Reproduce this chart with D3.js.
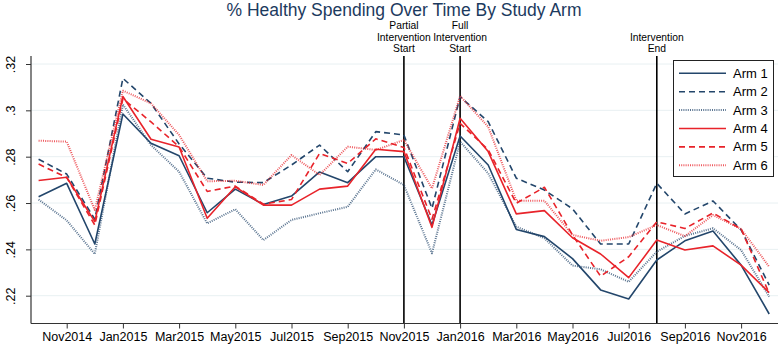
<!DOCTYPE html>
<html><head><meta charset="utf-8">
<script src="https://cdn.jsdelivr.net/npm/d3@7"></script>
<style>body{margin:0;background:#fff}svg{display:block;font-family:"Liberation Sans",Arial,sans-serif}</style>
</head><body><svg id="c" width="778" height="346"></svg>
<script>
const months = ["Oct2014","Nov2014","Dec2014","Jan2015","Feb2015","Mar2015","Apr2015","May2015","Jun2015","Jul2015","Aug2015","Sep2015","Oct2015","Nov2015","Dec2015","Jan2016","Feb2016","Mar2016","Apr2016","May2016","Jun2016","Jul2016","Aug2016","Sep2016","Oct2016","Nov2016","Dec2016"];
const xTickLabels = ["Nov2014","Jan2015","Mar2015","May2015","Jul2015","Sep2015","Nov2015","Jan2016","Mar2016","May2016","Jul2016","Sep2016","Nov2016"];
const yTicks = [0.22,0.24,0.26,0.28,0.30,0.32];
const yTickLabels = [".22",".24",".26",".28",".3",".32"];
const arm1 = [0.2627,0.2685,0.2423,0.2984,0.2858,0.2804,0.2558,0.2660,0.2594,0.2630,0.2734,0.2688,0.2800,0.2800,0.2505,0.2889,0.2764,0.2486,0.2455,0.2360,0.2225,0.2186,0.2354,0.2437,0.2479,0.2332,0.2121];
const arm2 = [0.2789,0.2725,0.2530,0.3138,0.3030,0.2855,0.2707,0.2690,0.2688,0.2764,0.2850,0.2735,0.2908,0.2894,0.2577,0.3059,0.2951,0.2707,0.2656,0.2575,0.2423,0.2423,0.2685,0.2553,0.2609,0.2484,0.2246];
const arm3 = [0.2615,0.2525,0.2380,0.3025,0.2850,0.2735,0.2512,0.2573,0.2440,0.2527,0.2556,0.2584,0.2745,0.2678,0.2383,0.2865,0.2728,0.2498,0.2448,0.2330,0.2314,0.2260,0.2390,0.2458,0.2491,0.2397,0.2196];
const arm4 = [0.2697,0.2711,0.2520,0.3060,0.2875,0.2842,0.2534,0.2670,0.2591,0.2591,0.2660,0.2673,0.2832,0.2822,0.2495,0.2966,0.2822,0.2553,0.2567,0.2450,0.2380,0.2278,0.2440,0.2397,0.2415,0.2332,0.2213];
const arm5 = [0.2768,0.2710,0.2505,0.3050,0.2950,0.2843,0.2650,0.2673,0.2595,0.2615,0.2814,0.2771,0.2877,0.2840,0.2530,0.2944,0.2830,0.2599,0.2668,0.2462,0.2284,0.2368,0.2519,0.2490,0.2557,0.2488,0.2210];
const arm6 = [0.2869,0.2865,0.2570,0.3085,0.3030,0.2894,0.2694,0.2696,0.2678,0.2807,0.2721,0.2843,0.2829,0.2872,0.2663,0.3062,0.2929,0.2610,0.2610,0.2462,0.2437,0.2453,0.2505,0.2457,0.2548,0.2488,0.2325];
const armNames = ["Arm 1","Arm 2","Arm 3","Arm 4","Arm 5","Arm 6"];
const events = [{m:"Nov2015", lines:["Partial","Intervention","Start"]},{m:"Jan2016", lines:["Full","Intervention","Start"]},{m:"Aug2016", lines:["Intervention","End"]}];
const title = "% Healthy Spending Over Time By Study Arm";

const navy = "#23466b", red = "#e8232a";
const styles = [
  {c:navy, d:null, w:1.6},
  {c:navy, d:"6,4", w:1.6},
  {c:navy, d:"1,1.2", w:2, o:0.75},
  {c:red, d:null, w:1.6},
  {c:red, d:"6,4", w:1.6},
  {c:red, d:"1,1.2", w:2, o:0.75}
];
const series = [arm1,arm2,arm3,arm4,arm5,arm6];

const svg = d3.select("#c");
const plotL = 31, plotR = 778, plotT = 56, plotB = 323.5;
const x = d3.scalePoint().domain(months).range([38.6, 769.2]);
const y = d3.scaleLinear().domain([0.22,0.32]).range([295.7,64]);

// gridlines
svg.append("g").selectAll("line").data(yTicks).join("line")
  .attr("x1",plotL).attr("x2",plotR).attr("y1",d=>y(d)).attr("y2",d=>y(d))
  .attr("stroke","#e8f0f2").attr("stroke-width",1);

// title
svg.append("text").attr("x",404).attr("y",15.5).attr("text-anchor","middle")
  .attr("font-size",17.5).attr("fill","#1c3a5e").text(title);

// event lines
events.forEach(e=>{
  const xx = x(e.m);
  svg.append("line").attr("x1",xx).attr("x2",xx).attr("y1",plotT).attr("y2",plotB)
    .attr("stroke","#000").attr("stroke-width",1.6);
  const n = e.lines.length;
  e.lines.forEach((t,i)=>{
    svg.append("text").attr("x",xx).attr("y",52 - (n-1-i)*11.4)
      .attr("text-anchor","middle").attr("font-size",10.3).attr("fill","#000").text(t);
  });
});

// lines
const line = d3.line().x((d,i)=>x(months[i])).y(d=>y(d));
series.forEach((s,k)=>{
  const st = styles[k];
  svg.append("path").datum(s).attr("d",line).attr("fill","none")
    .attr("stroke",st.c).attr("stroke-width",st.w)
    .attr("stroke-dasharray",st.d).attr("stroke-opacity",st.o||1)
    .attr("stroke-linejoin","round");
});

// y axis
const yAxis = d3.axisLeft(y).tickValues(yTicks).tickFormat((d,i)=>yTickLabels[i]).tickSize(5).tickPadding(3);
const gy = svg.append("g").attr("transform",`translate(${plotL},0)`).call(yAxis);
gy.select(".domain").remove();
gy.append("line").attr("x1",0).attr("x2",0).attr("y1",plotT).attr("y2",plotB).attr("stroke","#333").attr("stroke-width",1.2);
gy.selectAll(".tick line").attr("stroke","#333");
gy.selectAll(".tick text").attr("font-size",12.5).attr("fill","#000")
  .attr("font-family","Liberation Sans, Arial, sans-serif")
  .attr("text-anchor","middle").attr("transform",d=>`rotate(-90,-20,0)`)
  .attr("x",-20).attr("dy","0.35em").attr("y",0);

// x axis
const xAxis = d3.axisBottom(x).tickValues(xTickLabels).tickSize(5).tickPadding(4);
const gx = svg.append("g").attr("transform",`translate(0,${plotB})`).call(xAxis);
gx.select(".domain").remove();
gx.append("line").attr("x1",plotL).attr("x2",plotR).attr("y1",0).attr("y2",0).attr("stroke","#333").attr("stroke-width",1.2);
gx.selectAll(".tick line").attr("stroke","#333");
gx.selectAll(".tick text").attr("font-size",12.5).attr("fill","#000")
  .attr("font-family","Liberation Sans, Arial, sans-serif");

// legend
const lg = svg.append("g");
lg.append("rect").attr("x",673.5).attr("y",60.5).attr("width",100).attr("height",116)
  .attr("fill","#fff").attr("stroke","#222").attr("stroke-width",1);
armNames.forEach((nm,k)=>{
  const st = styles[k];
  const yy = 73.3 + k*18.4;
  lg.append("line").attr("x1",679).attr("x2",726).attr("y1",yy).attr("y2",yy)
    .attr("stroke",st.c).attr("stroke-width",st.w).attr("stroke-dasharray",st.d).attr("stroke-opacity",st.o||1);
  lg.append("text").attr("x",733).attr("y",yy).attr("dy","0.35em").attr("font-size",13).attr("fill","#000").text(nm);
});
</script></body></html>
